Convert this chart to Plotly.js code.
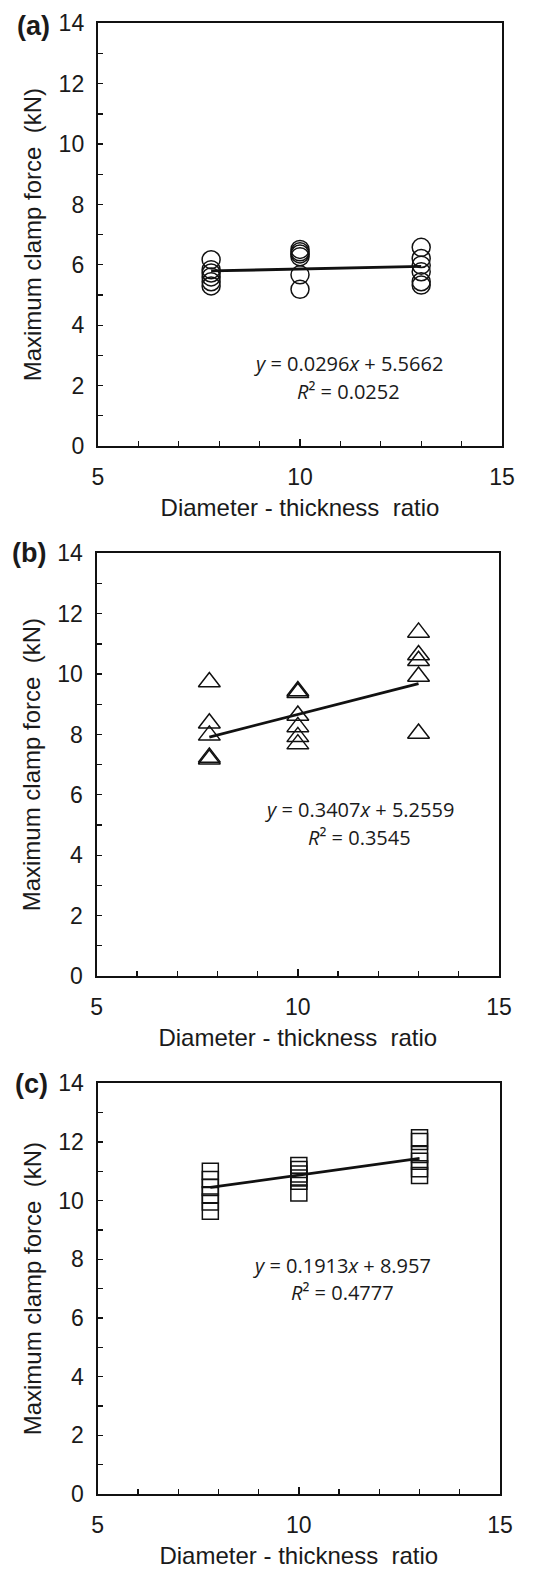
<!DOCTYPE html>
<html>
<head>
<meta charset="utf-8">
<script src="https://cdn.plot.ly/plotly-3.0.1.min.js"></script>
<style>html,body{margin:0;padding:0;background:#fff;}#chart{width:553px;height:1576px;}</style>
</head>
<body>
<div id="chart"></div>
<script>
// ---- data ----
const ratioA = [7.8,7.8,7.8,7.8,7.8,7.8, 10,10,10,10,10,10, 13,13,13,13,13,13];
const forceA = [6.17,5.84,5.73,5.60,5.44,5.30, 6.51,6.43,6.36,6.27,5.67,5.19, 6.58,6.21,5.99,5.77,5.44,5.33];

const ratioB = [7.8,7.8,7.8,7.8,7.8, 10,10,10,10,10,10, 13,13,13,13,13];
const forceB = [9.74,8.37,7.97,7.24,7.18, 9.44,9.38,8.63,8.25,7.92,7.68, 11.38,10.63,10.44,9.92,8.03];

const ratioC = [7.8,7.8,7.8,7.8,7.8,7.8, 10,10,10,10,10,10, 13,13,13,13,13,13];
const forceC = [11.0,10.72,10.45,10.2,9.95,9.64, 11.2,11.06,10.91,10.77,10.66,10.26, 12.14,12.02,11.57,11.34,11.09,10.86];

const fitA = [0.0296, 5.5662];
const fitB = [0.3407, 5.2559];
const fitC = [0.1913, 8.957];

const eqA = ['<i>y</i> = 0.0296<i>x</i> + 5.5662', '<i>R</i>\u00b2 = 0.0252'];
const eqB = ['<i>y</i> = 0.3407<i>x</i> + 5.2559', '<i>R</i>\u00b2 = 0.3545'];
const eqC = ['<i>y</i> = 0.1913<i>x</i> + 8.957', '<i>R</i>\u00b2 = 0.4777'];

const panelLabels = ['(a)', '(b)', '(c)'];
const xTitle = 'Diameter - thickness\u00a0\u00a0ratio';
const yTitle = 'Maximum clamp force\u00a0\u00a0(kN)';

// ---- styling ----
const W = 553, H = 1576;
const ink = '#111';
const txt = '#1a1a1a';
const ARIAL = 'Liberation Sans, Arial, sans-serif';

function trend(xs, fit) {
  const lo = Math.min(...xs), hi = Math.max(...xs);
  return {x: [lo, hi], y: [fit[0]*lo + fit[1], fit[0]*hi + fit[1]]};
}

function scatter(xs, ys, sym, size, ax) {
  return {x: xs, y: ys, type: 'scatter', mode: 'markers', xaxis: 'x'+ax, yaxis: 'y'+ax,
    marker: {symbol: sym, size: size, color: ink, line: {width: 1.5, color: ink}},
    showlegend: false, hoverinfo: 'skip'};
}
function line(xs, fit, ax) {
  const t = trend(xs, fit);
  return {x: t.x, y: t.y, type: 'scatter', mode: 'lines', xaxis: 'x'+ax, yaxis: 'y'+ax,
    line: {color: ink, width: 2.8}, showlegend: false, hoverinfo: 'skip'};
}

const data = [
  scatter(ratioA, forceA, 'circle-open', 18, ''), line(ratioA, fitA, ''),
  scatter(ratioB, forceB, 'triangle-up-open', 19, '2'), line(ratioB, fitB, '2'),
  scatter(ratioC, forceC, 'square-open', 16, '3'), line(ratioC, fitC, '3')
];

function xax(domPx, anchor) {
  return {domain: [domPx[0]/W, domPx[1]/W], anchor: anchor, range: [5, 15], dtick: 5, tick0: 5,
    ticks: 'inside', ticklen: 7, tickwidth: 1.3, tickcolor: ink,
    minor: {dtick: 1, ticks: 'inside', ticklen: 5, tickwidth: 1.3, tickcolor: ink},
    showline: true, linewidth: 2.2, linecolor: ink, mirror: true, showgrid: false, zeroline: false,
    tickfont: {family: ARIAL, size: 23, color: txt}, ticklabelstandoff: 9,
    title: {text: xTitle, font: {family: ARIAL, size: 24, color: txt}, standoff: 11},
    fixedrange: true};
}
function yax(domPx, anchor) {
  return {domain: [1 - domPx[1]/H, 1 - domPx[0]/H], anchor: anchor, range: [0, 14], dtick: 2,
    ticks: 'inside', ticklen: 5, tickwidth: 1.3, tickcolor: ink,
    minor: {dtick: 1, ticks: 'inside', ticklen: 5, tickwidth: 1.3, tickcolor: ink},
    showline: true, linewidth: 2.2, linecolor: ink, mirror: true, showgrid: false, zeroline: false,
    tickfont: {family: ARIAL, size: 23, color: txt}, ticklabelstandoff: 7,
    title: {text: yTitle, font: {family: ARIAL, size: 24, color: txt}, standoff: 10},
    fixedrange: true};
}

const eqFont = {family: 'Open Sans, sans-serif', size: 20, color: txt};
function eqAnn(lines, ax, x, y1, y2) {
  return [
    {text: lines[0], xref: 'x'+ax, yref: 'y'+ax, x: x, y: y1, showarrow: false, font: eqFont, xanchor: 'center', yanchor: 'middle'},
    {text: lines[1], xref: 'x'+ax, yref: 'y'+ax, x: x, y: y2, showarrow: false, font: eqFont, xanchor: 'center', yanchor: 'middle'}
  ];
}
function panelAnn(t, cx, cy) {
  return {text: '<b>' + t + '</b>', xref: 'paper', yref: 'paper', x: cx/W, y: 1 - cy/H,
    showarrow: false, xanchor: 'center', yanchor: 'middle', font: {family: ARIAL, size: 27, color: txt}};
}

const layout = {
  width: W, height: H, margin: {l: 0, r: 0, t: 0, b: 0},
  paper_bgcolor: '#fff', plot_bgcolor: '#fff', showlegend: false,
  xaxis: xax([98, 502], 'y'), yaxis: yax([23.3, 446], 'x'),
  xaxis2: xax([96.7, 499], 'y2'), yaxis2: yax([553.3, 976], 'x2'),
  xaxis3: xax([97.7, 500], 'y3'), yaxis3: yax([1083.3, 1494], 'x3'),
  annotations: [].concat(
    eqAnn(eqA, '', 11.19, 2.72, 1.82),
    eqAnn(eqB, '2', 11.52, 5.5, 4.6),
    eqAnn(eqC, '3', 11.08, 7.8, 6.86),
    [panelAnn(panelLabels[0], 33, 26.5), panelAnn(panelLabels[1], 29, 552.5), panelAnn(panelLabels[2], 31, 1084)]
  )
};

Plotly.newPlot('chart', data, layout, {staticPlot: true, displayModeBar: false});
</script>
</body>
</html>
